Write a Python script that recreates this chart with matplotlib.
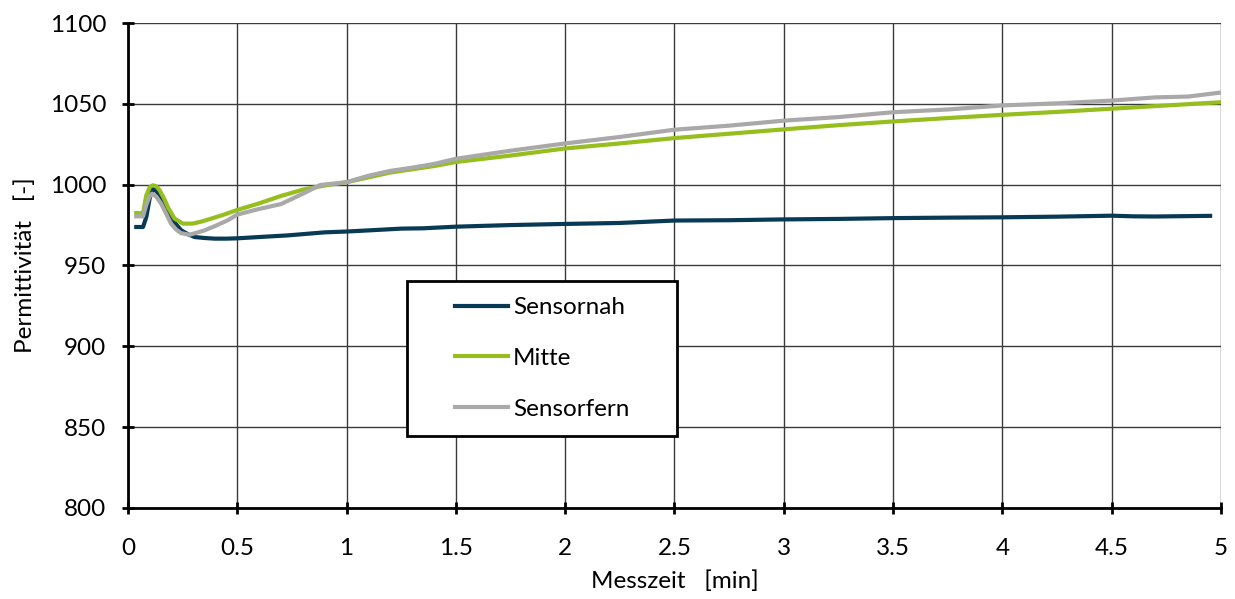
import matplotlib
matplotlib.use('Agg')
import matplotlib.pyplot as plt
from matplotlib.patches import Rectangle

### data
t_nah = [0.038, 0.069, 0.084, 0.1, 0.114, 0.13, 0.152, 0.175, 0.198, 0.22, 0.244, 0.275,
         0.305, 0.35, 0.397, 0.45, 0.5, 0.6, 0.73, 0.9, 1.0, 1.1, 1.25, 1.35, 1.5,
         1.75, 2.0, 2.25, 2.5, 2.75, 3.0, 3.25, 3.5, 3.76, 4.0, 4.25, 4.5, 4.6,
         4.7, 4.95]
y_nah = [973.8, 973.8, 980, 992, 997.5, 996, 992.3, 986, 980, 975.5, 971.7, 969.3,
         967.6, 967, 966.6, 966.6, 966.8, 967.6, 968.6, 970.5, 971, 971.7, 972.8, 973, 974,
         975, 975.7, 976.3, 977.8, 978, 978.5, 978.8, 979.3, 979.6, 979.8, 980.2, 980.8, 980.4,
         980.3, 980.7]

t_mitte = [0.038, 0.069, 0.084, 0.1, 0.114, 0.13, 0.145, 0.165, 0.183, 0.213, 0.251, 0.297,
           0.34, 0.381, 0.44, 0.503, 0.595, 0.7, 0.8, 0.9, 1.0, 1.1, 1.2, 1.3, 1.4,
           1.5, 1.75, 2.0, 2.25, 2.5, 2.75, 3.0, 3.25, 3.5, 3.75, 4.0, 4.25, 4.5,
           4.75, 5.0]
y_mitte = [982.4, 982.4, 993.4, 998.5, 999.6, 999, 996.5, 991.5, 986, 979, 975.9, 975.9,
           977.3, 979, 981.5, 984.5, 988.2, 993, 996.9, 999.5, 1001.5, 1004.5, 1007.5, 1009.5, 1011.5,
           1014, 1018, 1022.4, 1025.5, 1028.8, 1031.5, 1034.2, 1036.8, 1039.1, 1041.2, 1043.2, 1045, 1047,
           1049, 1051]

t_fern = [0.038, 0.069, 0.084, 0.098, 0.11, 0.13, 0.152, 0.175, 0.197, 0.22, 0.243, 0.282,
          0.35, 0.4, 0.457, 0.5, 0.595, 0.7, 0.8, 0.88, 1.0, 1.1, 1.2, 1.3, 1.4,
          1.5, 1.75, 2.0, 2.25, 2.5, 2.75, 3.0, 3.25, 3.5, 3.75, 4.0, 4.25, 4.5,
          4.7, 4.85, 5.0]
y_fern = [980.4, 980.4, 987.5, 992.5, 994.4, 992.5, 988.2, 982, 975.9, 972.3, 970, 969,
          971.7, 974.5, 978, 981.5, 984.8, 988, 994.4, 999.8, 1001.5, 1005.5, 1008.5, 1010.5, 1012.8,
          1016, 1021, 1025.5, 1029.5, 1034, 1036.5, 1039.6, 1041.8, 1044.8, 1046.5, 1049, 1050.3, 1052,
          1054, 1054.5, 1057]

x_ticks = [0, 0.5, 1, 1.5, 2, 2.5, 3, 3.5, 4, 4.5, 5]
x_ticklabels = ['0', '0.5', '1', '1.5', '2', '2.5', '3', '3.5', '4', '4.5', '5']
y_ticks = [800, 850, 900, 950, 1000, 1050, 1100]

### style
plt.rcParams['font.family'] = ['Lato', 'DejaVu Sans']
fs = 17.5

fig = plt.figure(figsize=(12.35, 5.99), dpi=100)
ax = fig.add_axes([0.1036, 0.152, 0.8851, 0.8096])

ax.plot(t_nah, y_nah, color='#083a55', lw=3.0, label='Sensornah', zorder=3)
ax.plot(t_mitte, y_mitte, color='#95be1e', lw=3.0, label='Mitte', zorder=3)
ax.plot(t_fern, y_fern, color='#a9a9a9', lw=3.0, label='Sensorfern', zorder=3)

ax.set_xlim(0, 5)
ax.set_ylim(800, 1100)
ax.set_xticks(x_ticks)
ax.set_xticklabels(x_ticklabels)
ax.set_yticks(y_ticks)

ax.grid(True, color='#3a3a3a', lw=1.0)
ax.set_axisbelow(True)
for s in ['top', 'right']:
    ax.spines[s].set_visible(False)
for s in ['left', 'bottom']:
    ax.spines[s].set_linewidth(2)
ax.tick_params(direction='inout', length=9, width=2, labelsize=fs)
ax.tick_params(axis='x', pad=17)
ax.tick_params(axis='y', pad=11)

ax.set_xlabel('Messzeit   [min]', fontsize=fs, labelpad=8)
ax.set_ylabel('Permittivität   [-]', fontsize=fs, labelpad=10)

### legend box
ax.add_patch(Rectangle((0.255, 0.149), 0.2474, 0.319, transform=ax.transAxes,
                       facecolor='white', edgecolor='black', lw=2, zorder=4))
leg = ax.legend(loc='center', bbox_to_anchor=(0.379, 0.3085), frameon=False,
                handlelength=2.2, handletextpad=0.2, labelspacing=1.22, fontsize=fs)
leg.set_zorder(5)

plt.savefig('out.png', dpi=100)
